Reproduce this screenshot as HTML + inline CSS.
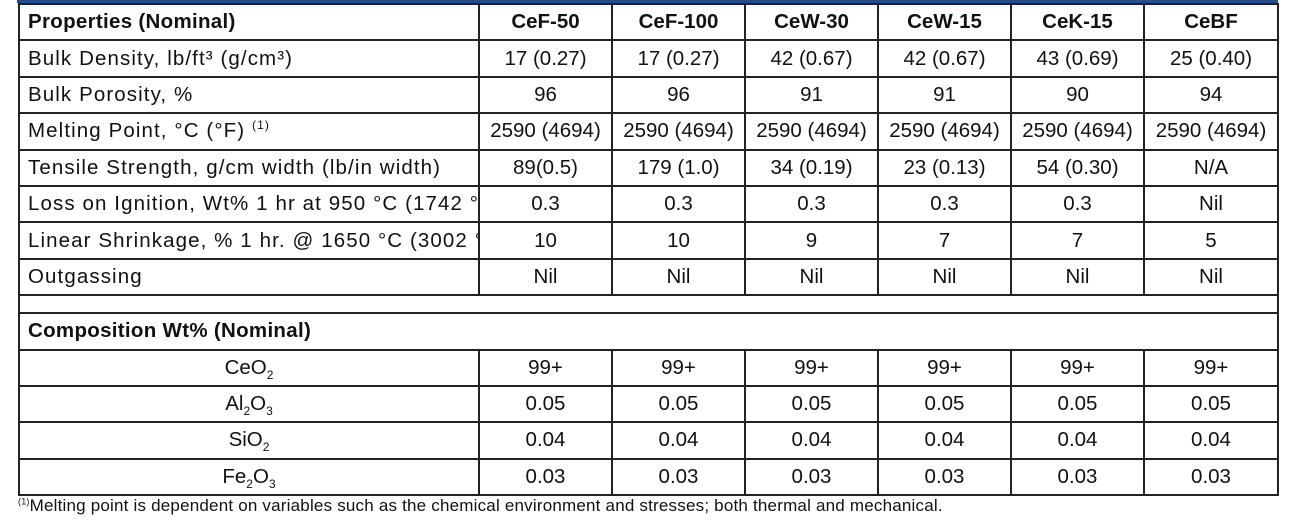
<!DOCTYPE html>
<html><head><meta charset="utf-8"><style>
body{margin:0;width:1303px;height:523px;background:#fff;position:relative;overflow:hidden;font-family:"Liberation Sans",sans-serif;color:#111}
#bar{position:absolute;left:17px;top:0;width:1261px;height:3px;background:#1f4e8c}
table{position:absolute;left:18px;top:3px;border-collapse:collapse;table-layout:fixed;width:1260px}
td{border:2px solid #222;padding:0;font-size:20.5px;text-align:center;white-space:nowrap;overflow:hidden}
td.l{text-align:left;padding-left:8px;letter-spacing:1.1px}
tr.b td.l{letter-spacing:0.3px}
tr{height:36.4px}
tr.sp{height:18px}
.b{font-weight:bold}
sub{font-size:12px;vertical-align:-5px;line-height:0}
sup{font-size:12px;line-height:0}
#fn{position:absolute;left:18px;top:496px;font-size:17px;letter-spacing:0.2px}
</style></head><body>
<div id="bar"></div>
<table>
<colgroup><col style="width:460px"><col style="width:133px"><col style="width:133px"><col style="width:133px"><col style="width:133px"><col style="width:133px"><col style="width:134px"></colgroup>
<tr class="b"><td class="l">Properties (Nominal)</td><td>CeF-50</td><td>CeF-100</td><td>CeW-30</td><td>CeW-15</td><td>CeK-15</td><td>CeBF</td></tr>
<tr><td class="l">Bulk Density, lb/ft³ (g/cm³)</td><td>17 (0.27)</td><td>17 (0.27)</td><td>42 (0.67)</td><td>42 (0.67)</td><td>43 (0.69)</td><td>25 (0.40)</td></tr>
<tr><td class="l">Bulk Porosity, %</td><td>96</td><td>96</td><td>91</td><td>91</td><td>90</td><td>94</td></tr>
<tr><td class="l">Melting Point, °C (°F) <sup>(1)</sup></td><td>2590 (4694)</td><td>2590 (4694)</td><td>2590 (4694)</td><td>2590 (4694)</td><td>2590 (4694)</td><td>2590 (4694)</td></tr>
<tr><td class="l">Tensile Strength, g/cm width (lb/in width)</td><td>89(0.5)</td><td>179 (1.0)</td><td>34 (0.19)</td><td>23 (0.13)</td><td>54 (0.30)</td><td>N/A</td></tr>
<tr><td class="l">Loss on Ignition, Wt% 1 hr at 950 °C (1742 °F)</td><td>0.3</td><td>0.3</td><td>0.3</td><td>0.3</td><td>0.3</td><td>Nil</td></tr>
<tr><td class="l">Linear Shrinkage, % 1 hr. @ 1650 °C (3002 °F)</td><td>10</td><td>10</td><td>9</td><td>7</td><td>7</td><td>5</td></tr>
<tr><td class="l">Outgassing</td><td>Nil</td><td>Nil</td><td>Nil</td><td>Nil</td><td>Nil</td><td>Nil</td></tr>
<tr class="sp"><td colspan="7"></td></tr>
<tr class="b"><td class="l" colspan="7">Composition Wt% (Nominal)</td></tr>
<tr><td>CeO<sub>2</sub></td><td>99+</td><td>99+</td><td>99+</td><td>99+</td><td>99+</td><td>99+</td></tr>
<tr><td>Al<sub>2</sub>O<sub>3</sub></td><td>0.05</td><td>0.05</td><td>0.05</td><td>0.05</td><td>0.05</td><td>0.05</td></tr>
<tr><td>SiO<sub>2</sub></td><td>0.04</td><td>0.04</td><td>0.04</td><td>0.04</td><td>0.04</td><td>0.04</td></tr>
<tr><td>Fe<sub>2</sub>O<sub>3</sub></td><td>0.03</td><td>0.03</td><td>0.03</td><td>0.03</td><td>0.03</td><td>0.03</td></tr>
</table>
<div id="fn"><sup style="font-size:9px">(1)</sup>Melting point is dependent on variables such as the chemical environment and stresses; both thermal and mechanical.</div>
</body></html>
